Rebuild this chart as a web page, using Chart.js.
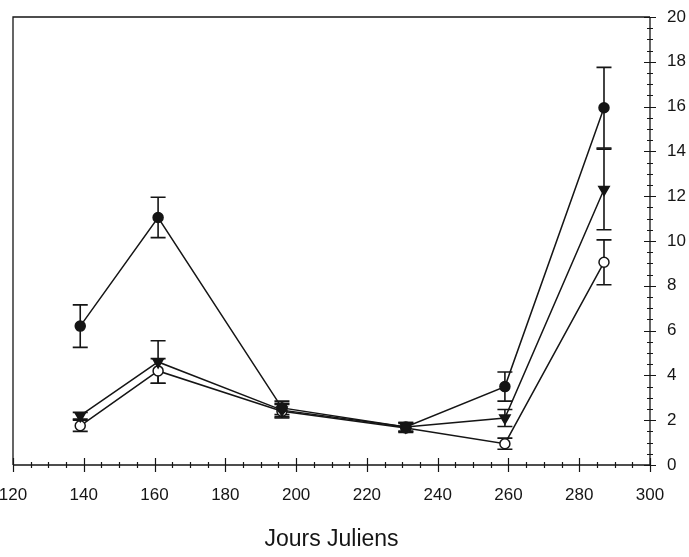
<!DOCTYPE html>
<html>
<head>
<meta charset="utf-8">
<script src="https://cdn.jsdelivr.net/npm/chart.js@4/dist/chart.umd.min.js"></script>
<style>
  html, body { margin: 0; padding: 0; background: #fff; }
  #wrap { width: 689px; height: 557px; }
</style>
</head>
<body>
<div id="wrap"><canvas id="c" width="689" height="557"></canvas></div>
<script>
// Julian days of sampling
const days = [139, 161, 196, 231, 259, 287];

// Series means and their error (± half-length of bar)
const filledCircle = [6.2, 11.05, 2.55, 1.7, 3.5, 15.95];
const filledCircleErr = [0.95, 0.9, 0.3, 0.2, 0.65, 1.8];

const downTriangle = [2.2, 4.6, 2.45, 1.7, 2.1, 12.3];
const downTriangleErr = [0.15, 0.95, 0.3, 0.2, 0.38, 1.8];

const openCircle = [1.75, 4.2, 2.4, 1.65, 0.95, 9.05];
const openCircleErr = [0.25, 0.55, 0.3, 0.2, 0.25, 1.0];

// Axis ranges and tick labels
const xMin = 120, xMax = 300, xStep = 20, xMinorStep = 5;
const yMin = 0, yMax = 20, yStep = 2, yMinorStep = 0.5;
const xTitle = 'Jours Juliens';

const INK = '#151515';
const FONT = "'Liberation Sans', Arial, sans-serif";

function pts(vals) { return days.map((d, i) => ({ x: d, y: vals[i] })); }

const errorSets = [filledCircleErr, downTriangleErr, openCircleErr];

// Vertical error bars with caps, placed through the chart scales
const errorBars = {
  id: 'errorBars',
  beforeDatasetsDraw(chart) {
    const { ctx, scales: { x, y } } = chart;
    ctx.save();
    ctx.strokeStyle = INK;
    ctx.lineWidth = 1.6;
    chart.data.datasets.forEach((ds, di) => {
      const errs = errorSets[di];
      ds.data.forEach((p, i) => {
        const e = errs[i];
        const px = x.getPixelForValue(p.x);
        const top = y.getPixelForValue(p.y + e);
        const bot = y.getPixelForValue(p.y - e);
        const cap = 7.5;
        ctx.beginPath();
        ctx.moveTo(px, top); ctx.lineTo(px, bot);
        ctx.moveTo(px - cap, top); ctx.lineTo(px + cap, top);
        ctx.moveTo(px - cap, bot); ctx.lineTo(px + cap, bot);
        ctx.stroke();
      });
    });
    ctx.restore();
  }
};

// Frame plus crossing major / minor tick marks on both axes
const axisFrame = {
  id: 'axisFrame',
  beforeDatasetsDraw(chart) {
    const { ctx, chartArea: a, scales: { x, y } } = chart;
    ctx.save();
    ctx.strokeStyle = INK;
    ctx.lineWidth = 1.3;
    ctx.beginPath();
    ctx.moveTo(a.left, a.bottom); ctx.lineTo(a.left, a.top); ctx.lineTo(a.right, a.top);
    ctx.moveTo(a.left, a.bottom); ctx.lineTo(a.right, a.bottom);
    ctx.moveTo(a.right, a.top); ctx.lineTo(a.right, a.bottom);
    ctx.stroke();

    ctx.lineWidth = 1.2;
    ctx.beginPath();
    for (let v = xMin; v <= xMax + 1e-9; v += xMinorStep) {
      const px = Math.round(x.getPixelForValue(v)) + 0.5;
      const major = Math.abs((v - xMin) % xStep) < 1e-9;
      const h = major ? 7 : 3;
      ctx.moveTo(px, a.bottom - h); ctx.lineTo(px, a.bottom + h);
    }
    for (let v = yMin; v <= yMax + 1e-9; v += yMinorStep) {
      const py = Math.round(y.getPixelForValue(v)) + 0.5;
      const major = Math.abs((v - yMin) % yStep) < 1e-9;
      const w = major ? 6 : 3;
      ctx.moveTo(a.right - w, py); ctx.lineTo(a.right + w, py);
    }
    ctx.stroke();
    ctx.restore();
  }
};

const lineStyle = { showLine: true, borderColor: INK, borderWidth: 1.5, pointBorderColor: INK, pointBorderWidth: 1.5 };

new Chart(document.getElementById('c'), {
  type: 'scatter',
  data: {
    datasets: [
      Object.assign({ label: 'A', data: pts(filledCircle), pointStyle: 'circle', pointRadius: 5, pointBackgroundColor: INK }, lineStyle),
      Object.assign({ label: 'B', data: pts(downTriangle), pointStyle: 'triangle', rotation: 180, pointRadius: 6, pointBackgroundColor: INK }, lineStyle),
      Object.assign({ label: 'C', data: pts(openCircle), pointStyle: 'circle', pointRadius: 5, pointBackgroundColor: '#ffffff' }, lineStyle)
    ]
  },
  options: {
    responsive: false,
    animation: false,
    events: [],
    layout: { padding: { left: 13, top: 17, right: 0, bottom: 0 } },
    plugins: { legend: { display: false }, tooltip: { enabled: false } },
    scales: {
      x: {
        type: 'linear', position: 'bottom', min: xMin, max: xMax,
        grid: { display: false }, border: { display: false },
        ticks: { stepSize: xStep, color: INK, padding: 12, maxRotation: 0, autoSkip: false, font: { family: FONT, size: 17 } },
        title: { display: true, text: xTitle, color: INK, font: { family: FONT, size: 23 }, padding: { top: 0, bottom: 4 } },
        afterFit(s) { s.height = 92; s.paddingLeft = 0; s.paddingRight = 0; }
      },
      y: {
        type: 'linear', position: 'right', min: yMin, max: yMax,
        grid: { display: false }, border: { display: false },
        ticks: { stepSize: yStep, color: INK, padding: 9, font: { family: FONT, size: 17 } },
        afterFit(s) { s.width = 39; s.paddingTop = 0; s.paddingBottom = 0; }
      }
    }
  },
  plugins: [errorBars, axisFrame]
});
</script>
</body>
</html>
